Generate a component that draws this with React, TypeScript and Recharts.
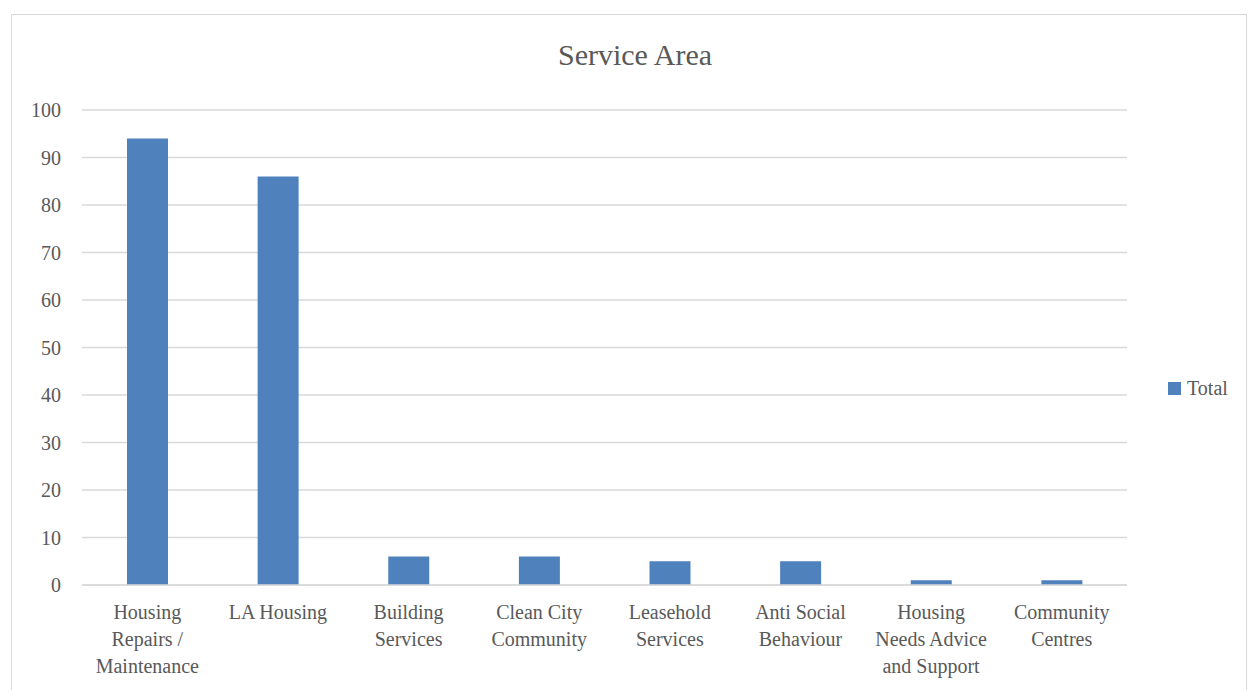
import { BarChart, Bar, XAxis, YAxis, CartesianGrid, Legend } from 'recharts'

const categories = [
  'Housing\nRepairs /\nMaintenance',
  'LA Housing',
  'Building\nServices',
  'Clean City\nCommunity',
  'Leasehold\nServices',
  'Anti Social\nBehaviour',
  'Housing\nNeeds Advice\nand Support',
  'Community\nCentres',
]
const totals = [94, 86, 6, 6, 5, 5, 1, 1]
const yTicks = [0, 10, 20, 30, 40, 50, 60, 70, 80, 90, 100]

const data = categories.map((name, i) => ({ name, Total: totals[i] }))

const FONT = '"Liberation Serif", "DejaVu Serif", serif'
const TEXT = '#595959'
const BAR = '#4F81BD'

function CategoryTick({ x, y, payload }: { x?: number; y?: number; payload?: { value: string } }) {
  const lines = String(payload?.value ?? '').split('\n')
  return (
    <text x={x} y={(y ?? 0) + 26} textAnchor="middle" fill={TEXT} fontSize={20} fontFamily={FONT}>
      {lines.map((l, i) => (
        <tspan key={i} x={x} dy={i === 0 ? 0 : 27}>{l}</tspan>
      ))}
    </text>
  )
}

function TotalLegend() {
  return (
    <div style={{ display: 'flex', alignItems: 'center', fontFamily: FONT, fontSize: 20, color: TEXT }}>
      <span style={{ display: 'inline-block', width: 13, height: 13, background: BAR, marginRight: 6 }} />
      <span>Total</span>
    </div>
  )
}

export default function App() {
  return (
    <div style={{ position: 'absolute', left: 0, top: 0, width: 1248, height: 690, background: '#fff', overflow: 'hidden' }}>
      <div style={{ position: 'absolute', left: 11, top: 14, width: 1236, height: 700, border: '1.5px solid #D9D9D9', boxSizing: 'border-box' }} />
      <div style={{ position: 'absolute', left: 0, top: 35, width: 1270, textAlign: 'center', fontFamily: FONT, fontSize: 30, color: TEXT, lineHeight: '40px' }}>
        Service Area
      </div>
      <div style={{ position: 'absolute', left: 0, top: 0 }}>
        <BarChart width={1248} height={690} data={data} margin={{ top: 110, right: 121, bottom: 25, left: 20 }}>
          <CartesianGrid vertical={false} stroke="#D9D9D9" strokeWidth={1.3} />
          <XAxis
            dataKey="name"
            interval={0}
            height={80}
            tickLine={false}
            axisLine={{ stroke: '#D9D9D9', strokeWidth: 1.5 }}
            tick={<CategoryTick />}
          />
          <YAxis
            width={62}
            domain={[0, 100]}
            ticks={yTicks}
            axisLine={false}
            tickLine={false}
            tickSize={0}
            tickMargin={21}
            tick={{ fill: TEXT, fontSize: 20, fontFamily: FONT }}
          />
          <Legend
            align="center"
            verticalAlign="middle"
            content={<TotalLegend />}
            wrapperStyle={{ left: 1168, top: 377, width: 80 }}
          />
          <Bar dataKey="Total" fill={BAR} barSize={41} isAnimationActive={false} />
        </BarChart>
      </div>
    </div>
  )
}
